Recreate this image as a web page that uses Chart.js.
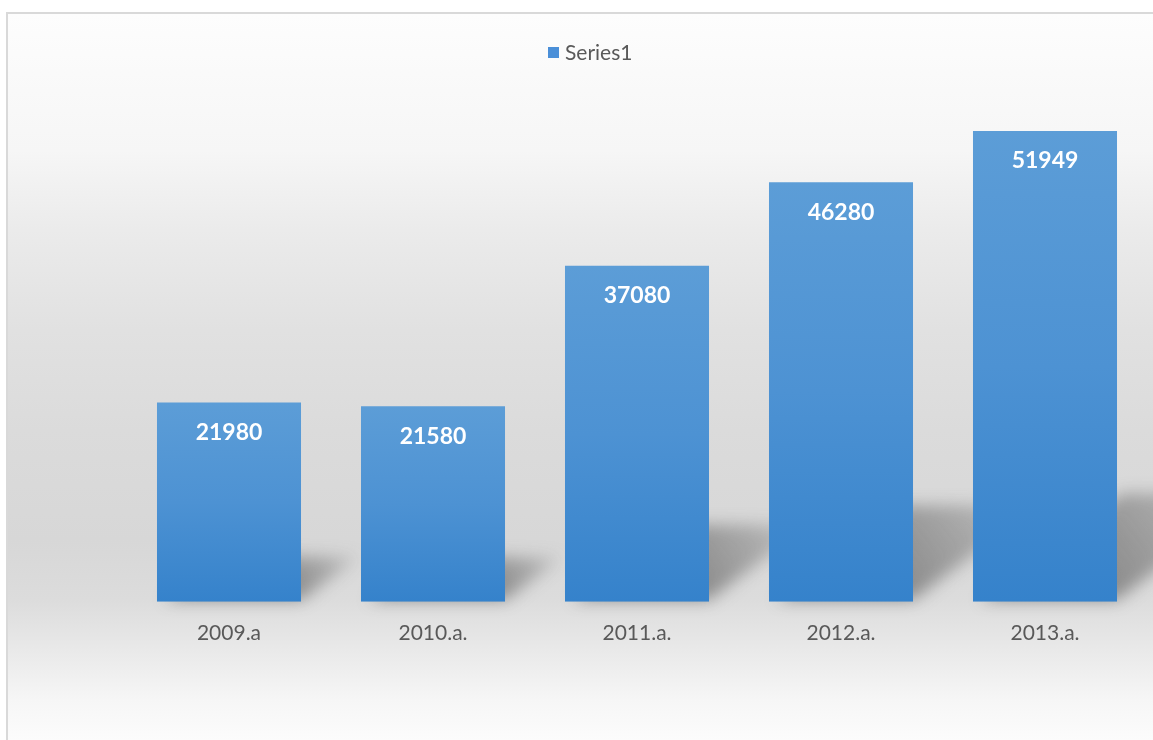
<!DOCTYPE html>
<html>
<head>
<meta charset="utf-8">
<script src="https://cdn.jsdelivr.net/npm/chart.js@4/dist/chart.umd.min.js"></script>
<style>
  html, body { margin: 0; padding: 0; background: #fff; overflow: hidden; }
  #wrap { width: 1153px; height: 740px; position: relative; }
</style>
</head>
<body>
<div id="wrap"><canvas id="barChart"></canvas></div>
<script>
const categories = ['2009.a', '2010.a.', '2011.a.', '2012.a.', '2013.a.'];
const seriesName = 'Series1';
const seriesValues = [21980, 21580, 37080, 46280, 51949];

// plot frame + grey "floor" gradient like the Excel chart style
const backdrop = {
    id: 'backdrop',
    beforeDraw(chart) {
        const c = chart.ctx;
        const w = chart.width, h = chart.height;
        c.save();
        c.fillStyle = '#ffffff';
        c.fillRect(0, 0, w, h);
        const top = 14;
        const g = c.createLinearGradient(0, top, 0, h);
        const stops = [[14, '#fdfdfd'], [150, '#f6f6f6'], [230, '#ebebeb'], [330, '#e1e1e1'],
                       [430, '#dbdbdb'], [540, '#d7d7d7'], [600, '#dcdcdc'], [650, '#e9e9e9'],
                       [700, '#f6f6f6'], [740, '#fcfcfc']];
        stops.forEach(s => g.addColorStop((s[0] - top) / (h - top), s[1]));
        c.fillStyle = g;
        c.fillRect(7, top, w - 7, h - top);
        c.strokeStyle = '#d9d9d9';
        c.lineWidth = 2;
        c.beginPath();
        c.moveTo(7, h);
        c.lineTo(7, 13);
        c.lineTo(w, 13);
        c.stroke();

        // legend (drawn by hand so it sits where Excel put it)
        c.fillStyle = '#4a8fd8';
        c.fillRect(548, 47, 11, 11);
        c.fillStyle = '#595959';
        c.font = '21px Lato';
        c.textAlign = 'left';
        c.textBaseline = 'middle';
        c.fillText(seriesName, 565, 53);
        c.restore();
    }
};

// soft cast shadows behind each bar
const barShadows = {
    id: 'barShadows',
    beforeDatasetsDraw(chart) {
        const c = chart.ctx;
        const meta = chart.getDatasetMeta(0);
        c.save();
        c.filter = 'blur(8px)';
        meta.data.forEach(bar => {
            const p = bar.getProps(['x', 'y', 'base', 'width'], true);
            const hgt = p.base - p.y;
            const x0 = p.x - p.width / 2 + 8, x1 = p.x + p.width / 2;
            const dx = hgt * 0.3, dy = hgt * 0.23;
            const g = c.createLinearGradient(x1, p.base, x1 + dx, p.base - dy);
            g.addColorStop(0, 'rgba(60,60,60,0.5)');
            g.addColorStop(0.6, 'rgba(60,60,60,0.28)');
            g.addColorStop(1, 'rgba(60,60,60,0.05)');
            c.fillStyle = g;
            c.beginPath();
            c.moveTo(x0, p.base - 2);
            c.lineTo(x1, p.base - 2);
            c.lineTo(x1 + dx, p.base - dy);
            c.lineTo(x0 + dx, p.base - dy);
            c.closePath();
            c.fill();
        });
        c.restore();
    }
};

// white bold values inside the top of every bar
const valueLabels = {
    id: 'valueLabels',
    afterDatasetsDraw(chart) {
        const c = chart.ctx;
        const meta = chart.getDatasetMeta(0);
        c.save();
        c.font = 'bold 23px Lato';
        c.fillStyle = '#ffffff';
        c.textAlign = 'center';
        c.textBaseline = 'middle';
        meta.data.forEach((bar, i) => {
            c.fillText(String(seriesValues[i]), bar.x, bar.y + 30);
        });
        c.restore();
    }
};

function barFill(context) {
    const chart = context.chart;
    if (!chart.chartArea || context.type !== 'data') return '#4a8fd2';
    const y = chart.scales.y;
    const top = y.getPixelForValue(context.parsed.y);
    const base = y.getPixelForValue(0);
    const g = chart.ctx.createLinearGradient(0, top, 0, base);
    g.addColorStop(0, '#5c9dd7');
    g.addColorStop(0.5, '#4d92d3');
    g.addColorStop(1, '#3582cb');
    return g;
}

const ctx = document.getElementById('barChart').getContext('2d');
const myChart = new Chart(ctx, {
    type: 'bar',
    data: {
        labels: categories,
        datasets: [{
            label: seriesName,
            data: seriesValues,
            backgroundColor: barFill,
            borderWidth: 0,
            barPercentage: 1,
            categoryPercentage: 0.706
        }]
    },
    options: {
        responsive: true,
        maintainAspectRatio: false,
        animation: false,
        layout: { padding: { top: 58, left: 127, right: 6, bottom: 75 } },
        scales: {
            x: {
                grid: { display: false, drawTicks: false },
                border: { display: false },
                ticks: { color: '#595959', font: { family: 'Lato', size: 21 }, padding: 19 }
            },
            y: {
                display: false,
                min: 0,
                max: 60000
            }
        },
        plugins: {
            tooltip: { enabled: false },
            legend: { display: false }
        }
    },
    plugins: [backdrop, barShadows, valueLabels]
});
</script>
</body>
</html>
